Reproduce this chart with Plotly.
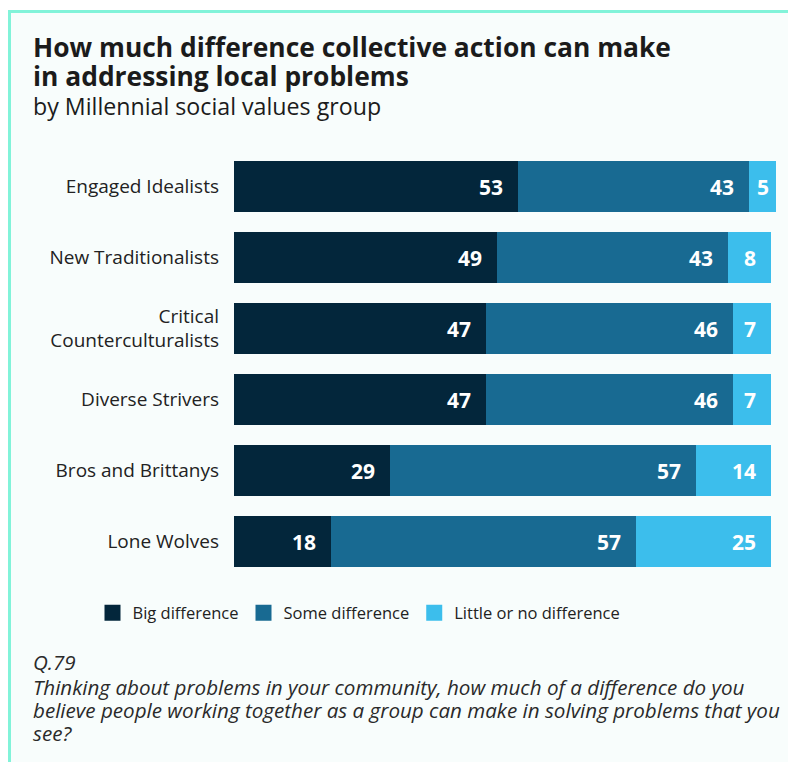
import plotly.graph_objects as go

categories = ["Engaged Idealists", "New Traditionalists", "Critical<br>Counterculturalists",
              "Diverse Strivers", "Bros and Brittanys", "Lone Wolves"]
series_names = ["Big difference", "Some difference", "Little or no difference"]
big = [53, 49, 47, 47, 29, 18]
some = [43, 43, 46, 46, 57, 57]
little = [5, 8, 7, 7, 14, 25]
colors = ["#03263b", "#186a92", "#3cbeec"]

title_lines = ["How much difference collective action can make", "in addressing local problems"]
subtitle = "by Millennial social values group"
note_lines = ["Q.79",
              "Thinking about problems in your community, how much of a difference do you",
              "believe people working together as a group can make in solving problems that you",
              "see?"]

W, H = 796, 762
L, T = 226, 143
PW, PH = 542, 426
R, B = W - L - PW, H - T - PH
FONT = "Open Sans"


def px2x(px):
    return (px - L) / PW


def py2y(py):
    return 1 - (py - T) / PH


fig = go.Figure()
for name, vals, col in zip(series_names, [big, some, little], colors):
    fig.add_trace(go.Bar(
        y=categories, x=vals, name=name, orientation="h",
        marker=dict(color=col, line=dict(width=0)),
        hoverinfo="x+name", showlegend=False,
    ))
# legend entries with larger square swatches
for name, col in zip(series_names, colors):
    fig.add_trace(go.Scatter(
        x=[None], y=[None], mode="markers", name=name,
        marker=dict(symbol="square", size=18, color=col),
    ))

annotations = []
for i, cat in enumerate(categories):
    cum = 0
    for vals in [big, some, little]:
        v = vals[i]
        start, end = cum, cum + v
        cum = end
        if v < 6:
            annotations.append(dict(x=(start + end) / 2, y=cat, xref="x", yref="y",
                                    text=f"<b>{v}</b>", showarrow=False, xanchor="center",
                                    font=dict(family=FONT, size=21, color="white")))
        else:
            annotations.append(dict(x=end, y=cat, xref="x", yref="y",
                                    text=f"<b>{v}</b>", showarrow=False, xanchor="right",
                                    xshift=-13,
                                    font=dict(family=FONT, size=21, color="white")))

for txt, yc in zip(title_lines, [39, 68]):
    annotations.append(dict(x=px2x(23), y=py2y(yc), xref="paper", yref="paper",
                            xanchor="left", yanchor="middle", align="left", showarrow=False,
                            text=f"<b>{txt}</b>",
                            font=dict(family=FONT, size=26.4, color="#1b1b1b")))
annotations.append(dict(x=px2x(23), y=py2y(98), xref="paper", yref="paper",
                        xanchor="left", yanchor="middle", align="left", showarrow=False,
                        text=subtitle,
                        font=dict(family=FONT, size=23.2, color="#1b1b1b")))
for txt, yc in zip(note_lines, [654, 679, 702, 725]):
    annotations.append(dict(x=px2x(23), y=py2y(yc), xref="paper", yref="paper",
                            xanchor="left", yanchor="middle", align="left", showarrow=False,
                            text=f"<i>{txt}</i>",
                            font=dict(family=FONT, size=20.6, color="#2a2a2a")))

shapes = [dict(type="rect", xref="paper", yref="paper",
               x0=px2x(1.5), x1=px2x(W + 20), y0=py2y(3.5), y1=py2y(H + 20),
               fillcolor="#f8fdfc", line=dict(color="#82f3d9", width=3), layer="below")]

fig.update_layout(
    width=W, height=H,
    margin=dict(l=L, r=R, t=T, b=B),
    paper_bgcolor="white", plot_bgcolor="rgba(0,0,0,0)",
    barmode="stack", bargap=0.27,
    xaxis=dict(range=[0, 101], visible=False, fixedrange=True),
    yaxis=dict(autorange="reversed", showgrid=False, zeroline=False, showline=False,
               ticks="", ticklabelstandoff=14,
               tickfont=dict(family=FONT, size=19, color="#222222")),
    legend=dict(orientation="h", x=px2x(351), xanchor="center", y=py2y(605), yanchor="middle",
                font=dict(family=FONT, size=16.5, color="#222222"), bgcolor="rgba(0,0,0,0)",
                traceorder="normal"),
    annotations=annotations, shapes=shapes,
    font=dict(family=FONT),
)

fig.write_html("out.html")
